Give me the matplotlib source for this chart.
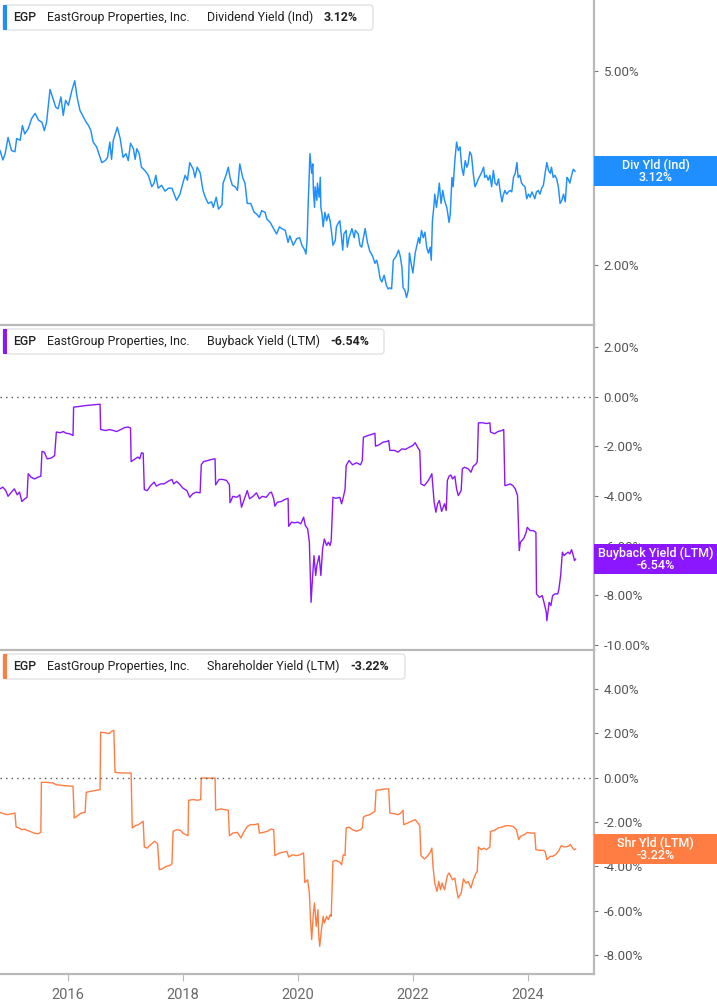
import matplotlib
matplotlib.use("Agg")
import matplotlib.pyplot as plt
from matplotlib.patches import FancyBboxPatch, Rectangle
from matplotlib.transforms import IdentityTransform
from matplotlib.ticker import FixedLocator, FuncFormatter, NullLocator

plt.rcParams['font.family'] = ['Roboto', 'DejaVu Sans']

# ---- data (decimal years, percent) ----
div_years = [
    2014.82, 2014.87, 2014.91, 2014.96, 2015.02, 2015.08, 2015.11, 2015.17, 2015.21, 2015.25,
    2015.31, 2015.37, 2015.43, 2015.49, 2015.55, 2015.59, 2015.63, 2015.69, 2015.75, 2015.79,
    2015.83, 2015.88, 2015.92, 2015.96, 2016.01, 2016.07, 2016.12, 2016.16, 2016.21, 2016.27,
    2016.32, 2016.36, 2016.40, 2016.44, 2016.50, 2016.56, 2016.59, 2016.65, 2016.69, 2016.73,
    2016.76, 2016.79, 2016.86, 2016.91, 2016.96, 2017.01, 2017.05, 2017.09, 2017.14, 2017.17,
    2017.20, 2017.24, 2017.28, 2017.34, 2017.40, 2017.46, 2017.50, 2017.53, 2017.57, 2017.63,
    2017.69, 2017.75, 2017.81, 2017.85, 2017.89, 2017.95, 2018.00, 2018.04, 2018.08, 2018.12,
    2018.18, 2018.21, 2018.25, 2018.30, 2018.35, 2018.39, 2018.44, 2018.50, 2018.53, 2018.58,
    2018.62, 2018.68, 2018.70, 2018.75, 2018.79, 2018.82, 2018.86, 2018.91, 2018.95, 2018.99,
    2019.04, 2019.08, 2019.12, 2019.18, 2019.24, 2019.28, 2019.33, 2019.37, 2019.43, 2019.46,
    2019.52, 2019.56, 2019.63, 2019.68, 2019.72, 2019.78, 2019.83,
    2019.86, 2019.92, 2019.98, 2020.03, 2020.07, 2020.12, 2020.14, 2020.16, 2020.18, 2020.21,
    2020.24, 2020.26, 2020.27, 2020.29, 2020.30, 2020.33, 2020.34, 2020.37, 2020.39, 2020.40,
    2020.42, 2020.44, 2020.47, 2020.50, 2020.53, 2020.56, 2020.59, 2020.61, 2020.65, 2020.67,
    2020.70, 2020.73, 2020.76, 2020.78, 2020.80, 2020.84, 2020.86, 2020.89, 2020.94, 2020.98,
    2021.00, 2021.05, 2021.08, 2021.11, 2021.14, 2021.17, 2021.21, 2021.25, 2021.30, 2021.34,
    2021.37, 2021.40, 2021.43, 2021.46, 2021.50, 2021.54, 2021.57, 2021.60, 2021.63, 2021.66,
    2021.71, 2021.75, 2021.78, 2021.81, 2021.83, 2021.86, 2021.89, 2021.92, 2021.94, 2021.96,
    2022.00, 2022.04, 2022.07, 2022.10, 2022.12, 2022.15, 2022.18, 2022.21, 2022.24, 2022.27,
    2022.30, 2022.32, 2022.34, 2022.37, 2022.38, 2022.41, 2022.44, 2022.46, 2022.49, 2022.52,
    2022.55, 2022.59, 2022.63, 2022.65, 2022.68, 2022.70, 2022.73, 2022.76, 2022.79, 2022.82,
    2022.85, 2022.88, 2022.91, 2022.94, 2022.96, 2022.99, 2023.02, 2023.05, 2023.08, 2023.11,
    2023.14, 2023.17, 2023.20, 2023.23, 2023.25, 2023.28, 2023.31, 2023.34, 2023.37, 2023.40,
    2023.43, 2023.46, 2023.49, 2023.52, 2023.55, 2023.57, 2023.60, 2023.63, 2023.66, 2023.69,
    2023.72, 2023.75, 2023.78, 2023.81, 2023.83, 2023.86, 2023.89, 2023.92, 2023.95, 2023.98,
    2024.01, 2024.04, 2024.07, 2024.10, 2024.12, 2024.15, 2024.18, 2024.21, 2024.24, 2024.27,
    2024.30, 2024.33, 2024.36, 2024.39, 2024.41, 2024.44, 2024.47, 2024.50, 2024.53, 2024.56,
    2024.59, 2024.62, 2024.65, 2024.68, 2024.70, 2024.73, 2024.76, 2024.79, 2024.82,
]
div_yield = [
    3.44, 3.29, 3.39, 3.66, 3.44, 3.42, 3.64, 3.61, 3.87, 3.72,
    3.81, 4.00, 4.10, 3.97, 3.93, 3.78, 3.93, 4.59, 4.36, 4.22,
    4.19, 4.43, 4.06, 4.36, 4.26, 4.57, 4.78, 4.43, 4.16, 4.03,
    3.93, 3.87, 3.78, 3.58, 3.50, 3.33, 3.25, 3.28, 3.33, 3.58,
    3.30, 3.61, 3.84, 3.64, 3.33, 3.39, 3.28, 3.56, 3.47, 3.30,
    3.47, 3.39, 3.18, 3.13, 3.06, 2.90, 2.95, 3.06, 2.88, 2.92,
    2.84, 2.88, 2.88, 2.80, 2.72, 2.80, 2.95, 3.06, 2.99, 3.25,
    3.15, 3.03, 3.18, 3.10, 2.85, 2.76, 2.68, 2.70, 2.63, 2.76,
    2.61, 2.66, 2.95, 3.06, 3.18, 3.03, 2.92, 2.90, 2.85, 3.23,
    3.03, 2.95, 2.68, 2.68, 2.57, 2.55, 2.51, 2.59, 2.57, 2.49,
    2.45, 2.40, 2.32, 2.40, 2.38, 2.36, 2.23,
    2.30, 2.20, 2.27, 2.28, 2.20, 2.15, 2.11, 2.25, 2.68, 3.39,
    3.09, 3.23, 2.85, 2.63, 2.90, 2.72, 2.95, 2.76, 3.03, 2.63,
    2.55, 2.40, 2.57, 2.47, 2.55, 2.47, 2.32, 2.20, 2.25, 2.40,
    2.44, 2.47, 2.28, 2.15, 2.32, 2.36, 2.18, 2.28, 2.38, 2.28,
    2.36, 2.32, 2.20, 2.18, 2.28, 2.38, 2.23, 2.14, 2.09, 2.02,
    2.05, 1.98, 1.88, 1.85, 1.91, 1.82, 1.79, 1.80, 1.79, 2.05,
    2.09, 2.15, 2.09, 1.98, 1.80, 1.78, 1.72, 1.78, 2.12, 2.05,
    1.93, 2.12, 2.20, 2.28, 2.22, 2.36, 2.28, 2.34, 2.18, 2.12,
    2.18, 2.05, 2.47, 2.68, 2.80, 2.63, 2.80, 2.95, 2.68, 2.85,
    2.72, 2.63, 2.45, 2.55, 3.03, 2.90, 3.28, 3.58, 3.44, 3.50,
    3.18, 3.06, 3.28, 3.18, 3.23, 3.42, 3.36, 3.09, 2.90, 2.95,
    3.01, 3.06, 3.11, 3.18, 3.03, 3.06, 2.99, 3.06, 2.90, 3.13,
    2.95, 2.92, 3.01, 2.83, 2.70, 2.78, 2.85, 2.80, 2.83, 2.85,
    2.83, 3.03, 3.09, 3.25, 3.03, 3.06, 2.95, 2.92, 2.90, 2.74,
    2.80, 2.76, 2.83, 2.78, 2.74, 2.83, 2.85, 2.80, 2.88, 2.92,
    3.09, 3.25, 3.13, 3.09, 3.18, 3.03, 3.06, 3.01, 2.90, 2.68,
    2.72, 2.80, 2.70, 3.03, 3.01, 2.95, 3.06, 3.15, 3.12,
]

bb_years = [
    2014.82, 2014.87, 2014.92, 2014.96, 2015.02, 2015.07, 2015.12, 2015.16, 2015.20, 2015.25,
    2015.29, 2015.31, 2015.36, 2015.42, 2015.48, 2015.53, 2015.55, 2015.59, 2015.64, 2015.71,
    2015.77, 2015.80, 2015.87, 2015.92, 2015.97, 2016.03, 2016.09, 2016.10, 2016.33, 2016.56,
    2016.57, 2016.66, 2016.72, 2016.79, 2016.85, 2016.92, 2016.99, 2017.05, 2017.09, 2017.10,
    2017.17, 2017.22, 2017.25, 2017.28, 2017.31, 2017.33, 2017.38, 2017.44, 2017.50, 2017.54,
    2017.61, 2017.67, 2017.74, 2017.81, 2017.84, 2017.89, 2017.94, 2018.00, 2018.07, 2018.12,
    2018.17, 2018.23, 2018.30, 2018.32, 2018.36, 2018.43, 2018.49, 2018.56, 2018.57, 2018.63,
    2018.69, 2018.76, 2018.81, 2018.82, 2018.87, 2018.94, 2018.99, 2019.02, 2019.07, 2019.12,
    2019.16, 2019.22, 2019.28, 2019.33, 2019.38, 2019.45, 2019.51, 2019.54, 2019.58, 2019.60,
    2019.64, 2019.71, 2019.77, 2019.83, 2019.84, 2019.89, 2019.94, 2020.00, 2020.05, 2020.10,
    2020.13, 2020.17, 2020.20, 2020.21, 2020.23, 2020.25, 2020.28, 2020.31, 2020.33, 2020.37,
    2020.40, 2020.43, 2020.46, 2020.50, 2020.53, 2020.56, 2020.58, 2020.61, 2020.66, 2020.73,
    2020.76, 2020.79, 2020.82, 2020.84, 2020.89, 2020.95, 2021.02, 2021.09, 2021.12, 2021.14,
    2021.22, 2021.28, 2021.34, 2021.35, 2021.41, 2021.48, 2021.55, 2021.58, 2021.60, 2021.68,
    2021.74, 2021.81, 2021.87, 2021.94, 2022.00, 2022.04, 2022.09, 2022.12, 2022.14, 2022.20,
    2022.27, 2022.31, 2022.33, 2022.37, 2022.40, 2022.43, 2022.46, 2022.50, 2022.55, 2022.58,
    2022.60, 2022.63, 2022.66, 2022.69, 2022.73, 2022.76, 2022.79, 2022.84, 2022.86, 2022.90,
    2022.96, 2023.01, 2023.05, 2023.10, 2023.12, 2023.14, 2023.22, 2023.28, 2023.34, 2023.35,
    2023.42, 2023.48, 2023.55, 2023.58, 2023.60, 2023.65, 2023.69, 2023.74, 2023.78, 2023.82,
    2023.85, 2023.87, 2023.93, 2023.97, 2023.99, 2024.04, 2024.09, 2024.14, 2024.15, 2024.20,
    2024.25, 2024.28, 2024.32, 2024.33, 2024.37, 2024.40, 2024.43, 2024.47, 2024.52, 2024.54,
    2024.57, 2024.60, 2024.63, 2024.66, 2024.70, 2024.73, 2024.76, 2024.79, 2024.81, 2024.83,
]
bb_yield = [
    -3.71, -3.64, -3.78, -4.01, -3.84, -3.71, -3.95, -3.84, -4.22, -4.11,
    -4.05, -3.10, -3.24, -3.31, -3.24, -3.20, -2.20, -2.23, -2.50, -2.47,
    -2.37, -1.42, -1.45, -1.40, -1.47, -1.49, -1.56, -0.42, -0.35, -0.30,
    -1.32, -1.36, -1.32, -1.36, -1.40, -1.32, -1.24, -1.22, -1.26, -2.61,
    -2.50, -2.43, -2.50, -2.26, -2.27, -3.74, -3.78, -3.58, -3.44, -3.60,
    -3.51, -3.51, -3.41, -3.33, -3.51, -3.41, -3.51, -3.68, -3.78, -4.05,
    -3.91, -3.84, -3.87, -2.74, -2.61, -2.57, -2.53, -2.50, -3.55, -3.33,
    -3.33, -3.37, -3.55, -4.27, -4.01, -4.05, -3.95, -4.45, -4.11, -3.78,
    -4.11, -4.01, -3.87, -4.11, -4.01, -4.05, -3.87, -3.84, -4.11, -4.41,
    -4.25, -4.22, -4.14, -4.09, -5.22, -5.05, -5.08, -5.05, -5.12, -4.85,
    -5.19, -5.32, -5.86, -6.67, -8.28, -7.47, -6.40, -7.20, -6.80, -6.40,
    -7.20, -6.13, -5.73, -5.99, -5.86, -5.99, -5.79, -4.05, -4.09, -4.05,
    -4.31, -4.05, -3.74, -2.77, -2.57, -2.74, -2.66, -2.74, -2.57, -1.63,
    -1.56, -1.52, -1.47, -1.99, -1.94, -1.83, -1.80, -1.76, -2.16, -2.16,
    -2.23, -2.10, -2.12, -2.03, -1.96, -1.85, -2.07, -2.16, -3.51, -3.58,
    -3.37, -3.20, -3.10, -4.25, -4.65, -4.31, -4.18, -4.62, -4.31, -4.58,
    -3.37, -3.20, -3.15, -3.31, -3.20, -3.71, -3.98, -3.78, -2.90, -2.84,
    -2.90, -3.04, -2.80, -2.70, -2.61, -1.05, -1.05, -1.08, -1.05, -1.42,
    -1.49, -1.40, -1.36, -1.32, -3.58, -3.55, -3.51, -3.58, -3.71, -3.98,
    -6.20, -5.86, -5.70, -5.46, -5.26, -5.39, -5.39, -5.46, -7.94, -8.08,
    -8.01, -8.28, -8.68, -9.02, -8.28, -8.41, -8.01, -7.94, -7.94, -7.74,
    -7.20, -6.26, -6.40, -6.33, -6.26, -6.33, -6.16, -6.40, -6.60, -6.54,
]

shr_years = [
    2014.82, 2014.89, 2014.95, 2015.02, 2015.08, 2015.10, 2015.15, 2015.20, 2015.25, 2015.29,
    2015.34, 2015.41, 2015.48, 2015.53, 2015.54, 2015.61, 2015.74, 2015.80, 2015.94, 2016.09,
    2016.11, 2016.17, 2016.23, 2016.30, 2016.32, 2016.39, 2016.49, 2016.56, 2016.57, 2016.66,
    2016.72, 2016.76, 2016.80, 2016.82, 2016.92, 2017.02, 2017.10, 2017.12, 2017.17, 2017.23,
    2017.28, 2017.31, 2017.33, 2017.38, 2017.44, 2017.51, 2017.56, 2017.59, 2017.64, 2017.71,
    2017.77, 2017.81, 2017.83, 2017.89, 2017.96, 2018.00, 2018.05, 2018.09, 2018.10, 2018.18,
    2018.26, 2018.31, 2018.32, 2018.43, 2018.53, 2018.56, 2018.57, 2018.66, 2018.72, 2018.79,
    2018.81, 2018.87, 2018.95, 2019.01, 2019.05, 2019.12, 2019.18, 2019.25, 2019.31, 2019.33,
    2019.40, 2019.47, 2019.53, 2019.58, 2019.60, 2019.68, 2019.74, 2019.81, 2019.84, 2019.91,
    2019.97, 2020.04, 2020.10, 2020.12, 2020.17, 2020.20, 2020.22, 2020.24, 2020.27, 2020.29,
    2020.32, 2020.35, 2020.36, 2020.38, 2020.41, 2020.44, 2020.46, 2020.50, 2020.53, 2020.56,
    2020.58, 2020.61, 2020.66, 2020.73, 2020.76, 2020.79, 2020.82, 2020.84, 2020.89, 2020.95,
    2021.02, 2021.09, 2021.12, 2021.14, 2021.18, 2021.25, 2021.34, 2021.36, 2021.45, 2021.51,
    2021.58, 2021.60, 2021.68, 2021.74, 2021.79, 2021.83, 2021.84, 2021.91, 2021.97, 2022.04,
    2022.09, 2022.12, 2022.14, 2022.20, 2022.25, 2022.30, 2022.33, 2022.35, 2022.38, 2022.42,
    2022.45, 2022.48, 2022.51, 2022.55, 2022.60, 2022.63, 2022.66, 2022.69, 2022.73, 2022.76,
    2022.79, 2022.84, 2022.88, 2022.92, 2022.96, 2023.01, 2023.05, 2023.10, 2023.12, 2023.14,
    2023.19, 2023.23, 2023.28, 2023.34, 2023.35, 2023.42, 2023.48, 2023.55, 2023.61, 2023.68,
    2023.74, 2023.80, 2023.84, 2023.87, 2023.94, 2023.99, 2024.04, 2024.12, 2024.14, 2024.20,
    2024.27, 2024.30, 2024.33, 2024.39, 2024.43, 2024.48, 2024.53, 2024.58, 2024.63, 2024.70,
    2024.74, 2024.78, 2024.81, 2024.83,
]
shr_yield = [
    -1.57, -1.63, -1.67, -1.63, -1.60, -2.23, -2.27, -2.35, -2.32, -2.38,
    -2.42, -2.50, -2.53, -2.47, -0.21, -0.21, -0.24, -0.32, -0.36, -0.39,
    -1.82, -1.72, -1.60, -1.57, -0.66, -0.62, -0.57, -0.54, 2.05, 2.02,
    1.99, 2.09, 2.14, 0.24, 0.21, 0.21, 0.21, -2.27, -2.17, -2.12,
    -2.02, -1.97, -3.13, -3.18, -3.02, -2.87, -2.98, -4.15, -4.12, -4.00,
    -3.97, -3.88, -2.42, -2.35, -2.38, -2.50, -2.57, -2.62, -1.02, -0.99,
    -1.02, -0.99, -0.02, -0.02, -0.02, -0.02, -1.47, -1.41, -1.44, -1.47,
    -2.62, -2.50, -2.47, -2.72, -2.50, -2.20, -2.12, -2.12, -2.08, -2.50,
    -2.47, -2.42, -2.32, -2.35, -3.52, -3.40, -3.37, -3.33, -3.58, -3.48,
    -3.52, -3.48, -3.40, -4.73, -4.61, -5.21, -6.41, -7.31, -6.11, -5.66,
    -6.71, -5.96, -7.01, -7.61, -6.86, -6.26, -6.56, -6.26, -6.41, -6.19,
    -6.26, -3.78, -3.73, -3.82, -3.93, -3.48, -3.52, -2.27, -2.23, -2.35,
    -2.42, -2.35, -2.27, -1.78, -1.72, -1.67, -1.52, -0.57, -0.54, -0.51,
    -0.51, -1.60, -1.63, -1.67, -1.60, -1.47, -2.12, -2.05, -1.97, -1.90,
    -2.05, -2.17, -3.52, -3.67, -3.55, -3.37, -3.18, -4.00, -4.76, -5.13,
    -4.68, -5.06, -4.76, -5.06, -4.42, -4.30, -4.45, -4.61, -4.53, -5.06,
    -5.43, -5.21, -4.57, -4.76, -4.68, -4.98, -4.61, -4.30, -4.23, -3.13,
    -3.25, -3.18, -3.25, -3.13, -2.42, -2.38, -2.27, -2.23, -2.17, -2.17,
    -2.20, -2.35, -2.80, -2.65, -2.57, -2.47, -2.50, -2.50, -3.25, -3.28,
    -3.28, -3.33, -3.70, -3.55, -3.55, -3.48, -3.33, -3.07, -3.13, -3.10,
    -3.02, -3.18, -3.25, -3.22,
]

year_ticks = [2016, 2018, 2020, 2022, 2024]
div_ticks = [2, 3, 5]
bb_ticks = [-10, -8, -6, -4, -2, 0, 2]
shr_ticks = [-8, -6, -4, -2, 0, 2, 4]

BLUE = '#1f8fff'
PURPLE = '#8a17ff'
ORANGE = '#ff7d42'
GRID = '#b9b9b9'
TXT = '#555555'

W, H = 717, 1005
fig = plt.figure(figsize=(W / 100, H / 100), dpi=100)
fig.patch.set_facecolor('white')

AX_R = 594  # right edge of plot area (px)


def add_panel(top, bottom):
    return fig.add_axes([0, 1 - bottom / H, AX_R / W, (bottom - top) / H])


ax1 = add_panel(0, 325)
ax2 = add_panel(325, 650)
ax3 = add_panel(650, 974)

pct = FuncFormatter(lambda v, p: '%.2f%%' % v)

for ax in (ax1, ax2, ax3):
    ax.set_xlim(2014.82, 2025.15)
    ax.set_facecolor('none')
    for s in ('left', 'top'):
        ax.spines[s].set_visible(False)
    ax.spines['right'].set_color(GRID)
    ax.spines['right'].set_linewidth(1.6)
    ax.spines['bottom'].set_color(GRID)
    ax.spines['bottom'].set_linewidth(1.6)
    ax.yaxis.tick_right()
    ax.yaxis.set_major_formatter(pct)
    ax.yaxis.set_minor_locator(NullLocator())
    ax.tick_params(axis='y', direction='out', length=3, width=0.8, color='#777777',
                   labelsize=9.5, labelcolor=TXT, pad=4)
    ax.xaxis.set_major_locator(FixedLocator(year_ticks))
    ax.xaxis.set_minor_locator(NullLocator())

for ax in (ax1, ax2):
    ax.tick_params(axis='x', length=0, labelbottom=False)

ax3.tick_params(axis='x', direction='out', length=5, width=0.8, color=GRID,
                labelsize=10.5, labelcolor='#6a6a6a', pad=5)
ax3.set_xticklabels([str(y) for y in year_ticks])

# top: dividend yield (log scale)
ax1.plot(div_years, div_yield, color=BLUE, lw=1.05)
ax1.set_yscale('log')
ax1.set_ylim(1.51, 7.0)
ax1.yaxis.set_major_locator(FixedLocator(div_ticks))
ax1.yaxis.set_minor_locator(NullLocator())
ax1.yaxis.set_major_formatter(pct)

# middle: buyback yield
ax2.plot(bb_years, bb_yield, color=PURPLE, lw=1.0)
ax2.set_ylim(-10.2, 2.89)
ax2.yaxis.set_major_locator(FixedLocator(bb_ticks))
ax2.axhline(0, color='#555555', lw=1, ls=(0, (1, 3)))

# bottom: shareholder yield
ax3.plot(shr_years, shr_yield, color=ORANGE, lw=1.0)
ax3.set_ylim(-8.86, 5.76)
ax3.yaxis.set_major_locator(FixedLocator(shr_ticks))
ax3.axhline(0, color='#555555', lw=1, ls=(0, (1, 3)))


def legend_box(y_top, right, color, metric, value, value_x):
    x0, y0 = 3, H - (y_top + 25)
    box = FancyBboxPatch((x0, y0), right - 3, 25, boxstyle='round,pad=0,rounding_size=3',
                         transform=IdentityTransform(), facecolor='white',
                         edgecolor='#e2e2e2', lw=1, zorder=5)
    fig.add_artist(box)
    bar = Rectangle((x0, y0), 3.5, 25, transform=IdentityTransform(),
                    facecolor=color, edgecolor='none', zorder=6)
    fig.add_artist(bar)
    yc = 1 - (y_top + 12.5) / H
    kw = dict(va='center', ha='left', fontsize=8.9, color='#222222', zorder=7)
    fig.text(13 / W, yc, 'EGP', fontweight='medium', **kw)
    fig.text(47 / W, yc, 'EastGroup Properties, Inc.', **kw)
    fig.text(207 / W, yc, metric, **kw)
    fig.text(value_x / W, yc, value, fontweight='bold', **kw)


legend_box(5, 373, BLUE, 'Dividend Yield (Ind)', '3.12%', 324)
legend_box(329, 384, PURPLE, 'Buyback Yield (LTM)', '-6.54%', 330)
legend_box(654, 405, ORANGE, 'Shareholder Yield (LTM)', '-3.22%', 350)


def value_tag(ax, last, color, name, value):
    fig.canvas.draw()
    yd = ax.transData.transform((2024.8, last))[1]
    rect = Rectangle((AX_R, yd - 15), W - AX_R, 30, transform=IdentityTransform(),
                     facecolor=color, edgecolor='none', zorder=8)
    fig.add_artist(rect)
    xc = (AX_R + W) / 2 / W
    fig.text(xc, (yd + 6) / H, name, ha='center', va='center', color='white',
             fontsize=9, fontweight='medium', zorder=9)
    fig.text(xc, (yd - 6.5) / H, value, ha='center', va='center', color='white',
             fontsize=9, fontweight='medium', zorder=9)


value_tag(ax1, div_yield[-1], BLUE, 'Div Yld (Ind)', '3.12%')
value_tag(ax2, bb_yield[-1], PURPLE, 'Buyback Yield (LTM)', '-6.54%')
value_tag(ax3, shr_yield[-1], ORANGE, 'Shr Yld (LTM)', '-3.22%')

fig.savefig('out.png', dpi=100, facecolor='white')
